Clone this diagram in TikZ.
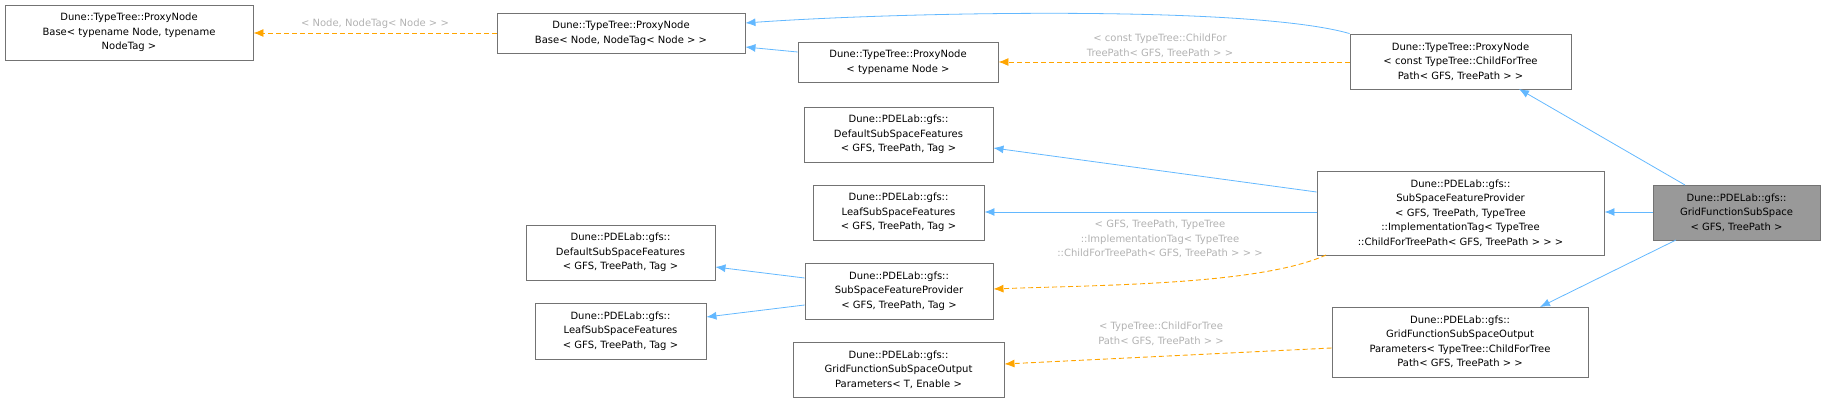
\documentclass[tikz,border=0pt]{standalone}
\usepackage{fontspec}
\setmainfont{DejaVu Sans}
\usetikzlibrary{arrows.meta}
\definecolor{eb}{HTML}{63B8FF}
\definecolor{eo}{HTML}{FFA500}
\begin{document}
\begin{tikzpicture}[x=1pt,y=-1pt,
  box/.style={draw=black!55,line width=0.9pt,fill=white,align=center,inner sep=0pt,font=\fontsize{10}{14.5}\selectfont},
  inh/.style={draw=eb,line width=0.8pt,-{Latex[length=10pt,width=8pt]}},
  tpl/.style={draw=eo,line width=0.9pt,dash pattern=on 5pt off 3pt,-{Latex[length=10pt,width=8pt]}},
  lbl/.style={text=black!30,align=center,font=\fontsize{10}{14.5}\selectfont,inner sep=0pt}]
\useasboundingbox (0,0) rectangle (1825,403);
\newcommand{\bx}[6]{\node[box,minimum width=#4-#2,minimum height=#5-#3,#6] (#1) at ({(#2+#4)/2},{(#3+#5)/2})}
\bx{A}{5}{5}{253}{60}{}{Dune::TypeTree::ProxyNode\\Base< typename Node, typename\\NodeTag >};
\bx{B}{497}{13}{745}{53}{}{Dune::TypeTree::ProxyNode\\Base< Node, NodeTag< Node > >};
\bx{C}{798}{42}{998}{82}{}{Dune::TypeTree::ProxyNode\\< typename Node >};
\bx{D}{1350}{34}{1571}{89}{}{Dune::TypeTree::ProxyNode\\< const TypeTree::ChildForTree\\Path< GFS, TreePath > >};
\bx{E}{804}{107}{993}{162}{}{Dune::PDELab::gfs::\\DefaultSubSpaceFeatures\\< GFS, TreePath, Tag >};
\bx{F}{813}{185}{984}{240}{}{Dune::PDELab::gfs::\\LeafSubSpaceFeatures\\< GFS, TreePath, Tag >};
\bx{G}{1317}{171}{1604}{255}{}{Dune::PDELab::gfs::\\SubSpaceFeatureProvider\\< GFS, TreePath, TypeTree\\::ImplementationTag< TypeTree\\::ChildForTreePath< GFS, TreePath > > >};
\bx{H}{1653}{185}{1820}{240}{fill=black!40}{Dune::PDELab::gfs::\\GridFunctionSubSpace\\< GFS, TreePath >};
\bx{I}{526}{225}{715}{280}{}{Dune::PDELab::gfs::\\DefaultSubSpaceFeatures\\< GFS, TreePath, Tag >};
\bx{J}{535}{303}{706}{359}{}{Dune::PDELab::gfs::\\LeafSubSpaceFeatures\\< GFS, TreePath, Tag >};
\bx{K}{805}{263}{993}{319}{}{Dune::PDELab::gfs::\\SubSpaceFeatureProvider\\< GFS, TreePath, Tag >};
\bx{L}{793}{342}{1004}{397}{}{Dune::PDELab::gfs::\\GridFunctionSubSpaceOutput\\Parameters< T, Enable >};
\bx{M}{1332}{307}{1588}{377}{}{Dune::PDELab::gfs::\\GridFunctionSubSpaceOutput\\Parameters< TypeTree::ChildForTree\\Path< GFS, TreePath > >};
\draw[tpl] (B.west|-0,33) -- (A.east|-0,33);
\node[lbl] (al) at (375,24) {< Node, NodeTag< Node > >};
\draw[inh] (D.north west) .. controls (1250,5) and (900,12) .. (B.east|-0,23);
\draw[inh] (C.west|-0,52) -- (B.east|-0,47);
\draw[tpl] (D.west|-0,62) -- (C.east|-0,62);
\node[lbl] (dl) at (1160,46) {< const TypeTree::ChildFor\\TreePath< GFS, TreePath > >};
\draw[inh] (1685,185) -- (1519,89);
\draw[inh] (G.west|-0,192) -- (E.east|-0,148);
\draw[inh] (G.west|-0,212) -- (F.east|-0,212);
\draw[tpl] (1326,255) .. controls (1260,285) and (1100,285) .. (K.east|-0,289);
\node[lbl] (gl) at (1160,239) {< GFS, TreePath, TypeTree\\::ImplementationTag< TypeTree\\::ChildForTreePath< GFS, TreePath > > >};
\draw[inh] (H.west|-0,212) -- (G.east|-0,212);
\draw[inh] (K.west|-0,278) -- (I.east|-0,267);
\draw[inh] (K.west|-0,305) -- (J.east|-0,317);
\draw[inh] (1676,240) -- (1540,307);
\draw[tpl] (M.west|-0,348) -- (L.east|-0,364);
\node[lbl] (ml) at (1161,334) {< TypeTree::ChildForTree\\Path< GFS, TreePath > >};
\end{tikzpicture}
\end{document}
